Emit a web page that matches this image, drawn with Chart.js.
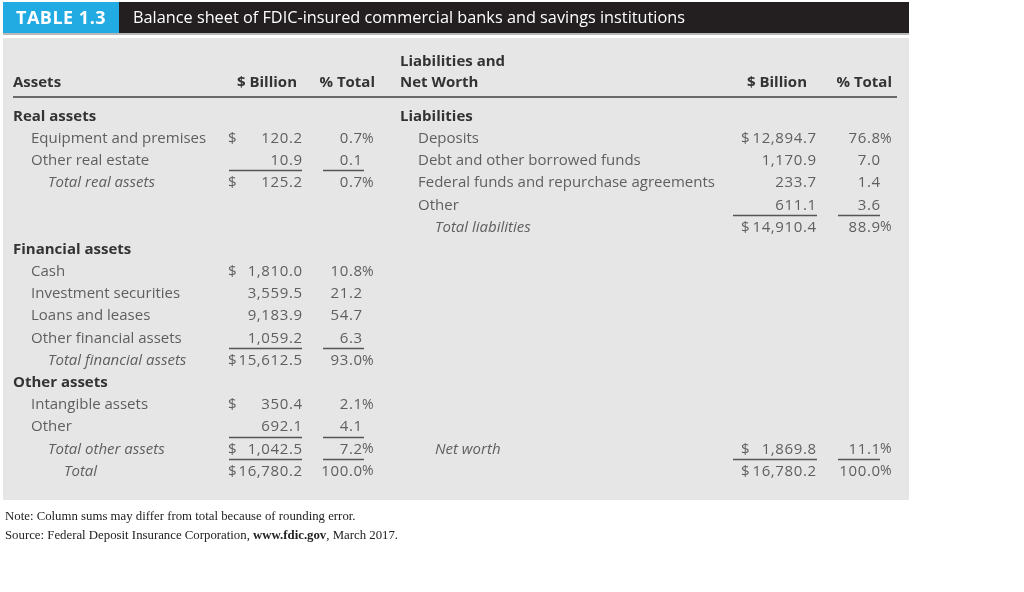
<!DOCTYPE html>
<html>
<head>
<meta charset="utf-8">
<script src="https://cdn.jsdelivr.net/npm/chart.js@4/dist/chart.umd.min.js"></script>
<style>
  html, body { margin: 0; background: #fff; }
  #wrap { width: 1024px; height: 592px; }
</style>
</head>
<body>
<div id="wrap"><canvas id="myChart"></canvas></div>
<script>
// TABLE TEXT
var tableNumber = 'TABLE 1.3';
var tableTitle = 'Balance sheet of FDIC-insured commercial banks and savings institutions';
var colHeads = ['$ Billion', '% Total'];
var leftHead = ['Assets'];
var rightHead = ['Liabilities and', 'Net Worth'];
var notes = ['Note: Column sums may differ from total because of rounding error.'];
var sourceParts = ['Source: Federal Deposit Insurance Corporation, ', 'www.fdic.gov', ', March 2017.'];

// ASSETS (left side)
var assetLabels = ['Real assets', 'Equipment and premises', 'Other real estate', 'Total real assets',
  'Financial assets', 'Cash', 'Investment securities', 'Loans and leases', 'Other financial assets', 'Total financial assets',
  'Other assets', 'Intangible assets', 'Other', 'Total other assets', 'Total'];
var assetRows = [0, 1, 2, 3, 6, 7, 8, 9, 10, 11, 12, 13, 14, 15, 16];
var assetKinds = ['group', 'item', 'item', 'total', 'group', 'item', 'item', 'item', 'item', 'total',
  'group', 'item', 'item', 'total', 'grand'];
var assetBillion = [null, 120.2, 10.9, 125.2, null, 1810.0, 3559.5, 9183.9, 1059.2, 15612.5, null, 350.4, 692.1, 1042.5, 16780.2];
var assetPercent = [null, 0.7, 0.1, 0.7, null, 10.8, 21.2, 54.7, 6.3, 93.0, null, 2.1, 4.1, 7.2, 100.0];
var assetMarked = [false, true, false, true, false, true, false, false, false, true, false, true, false, true, true];
var assetRuleBelow = [false, false, true, false, false, false, false, false, true, false, false, false, true, true, false];

// LIABILITIES AND NET WORTH (right side)
var liabLabels = ['Liabilities', 'Deposits', 'Debt and other borrowed funds', 'Federal funds and repurchase agreements',
  'Other', 'Total liabilities', 'Net worth', ''];
var liabRows = [0, 1, 2, 3, 4, 5, 15, 16];
var liabKinds = ['group', 'item', 'item', 'item', 'item', 'total', 'total', 'grand'];
var liabBillion = [null, 12894.7, 1170.9, 233.7, 611.1, 14910.4, 1869.8, 16780.2];
var liabPercent = [null, 76.8, 7.0, 1.4, 3.6, 88.9, 11.1, 100.0];
var liabMarked = [false, true, false, false, false, true, true, true];
var liabRuleBelow = [false, false, false, false, true, false, true, false];

// LAYOUT
var FONT = '"Open Sans", "Liberation Sans", sans-serif';
var ROW_PX = 22.1875;
var FIRST_ROW_PX = 115;
var TEXT_DY = 1.5;
var Y_MIN = -FIRST_ROW_PX / ROW_PX;
var Y_MAX = Y_MIN + 592 / ROW_PX;
var HEAD_ROWS = [-2.48, -1.53];
var HEAD_RULE_ROW = -0.82;
var sides = {
  left: { label: 13, indent: { group: 0, item: 18, total: 35, grand: 51 }, dollar: 228, billion: 302, pct: 362,
          ruleB: [229, 302], ruleP: [323, 364], headB: 297, headP: 375 },
  right: { label: 400, indent: { group: 0, item: 18, total: 35, grand: 35 }, dollar: 741, billion: 816, pct: 880,
           ruleB: [733, 817], ruleP: [838, 880], headB: 807, headP: 892 }
};

function fmt(n) {
  return n.toLocaleString('en-US', { minimumFractionDigits: 1, maximumFractionDigits: 1 });
}

function cellPoints(rows, values, marked, col, kind) {
  var pts = [];
  for (var i = 0; i < rows.length; i++) {
    if (values[i] === null) continue;
    pts.push({ x: col, y: rows[i], v: values[i], m: marked[i], k: kind });
  }
  return pts;
}

function fontFor(kind) {
  if (kind === 'group') return 'bold 15px ' + FONT;
  if (kind === 'total' || kind === 'grand') return 'italic 15px ' + FONT;
  return '15px ' + FONT;
}

var tablePlugin = {
  id: 'tablePlugin',
  beforeDraw: function (chart) {
    var ctx = chart.ctx;
    ctx.save();
    ctx.fillStyle = '#fff';
    ctx.fillRect(0, 0, chart.width, chart.height);
    // title bar
    ctx.fillStyle = '#231f20';
    ctx.fillRect(3, 2, 906, 31);
    ctx.fillStyle = '#22aae2';
    ctx.fillRect(3, 2, 116, 31);
    ctx.fillStyle = '#b9b9b9';
    ctx.fillRect(3, 33, 906, 2);
    // grey panel
    ctx.fillStyle = '#e6e6e6';
    ctx.fillRect(3, 38, 906, 462);
    ctx.fillStyle = '#fff';
    ctx.textBaseline = 'middle';
    ctx.font = 'bold 18px ' + FONT;
    ctx.letterSpacing = '0.5px';
    ctx.fillText(tableNumber, 16, 18.5);
    ctx.letterSpacing = '0px';
    ctx.font = '16.3px ' + FONT;
    ctx.fillText(tableTitle, 133, 18.5);
    ctx.restore();
  },
  afterDatasetsDraw: function (chart) {
    var ctx = chart.ctx;
    var y = chart.scales.y;
    function py(v) { return y.getPixelForValue(v) + TEXT_DY; }
    ctx.save();
    ctx.textBaseline = 'middle';

    // column heads
    ctx.fillStyle = '#333';
    ctx.font = 'bold 15px ' + FONT;
    ctx.textAlign = 'left';
    ctx.fillText(leftHead[0], sides.left.label, py(HEAD_ROWS[1]));
    ctx.fillText(rightHead[0], sides.right.label, py(HEAD_ROWS[0]));
    ctx.fillText(rightHead[1], sides.right.label, py(HEAD_ROWS[1]));
    ctx.textAlign = 'right';
    ['left', 'right'].forEach(function (s) {
      ctx.fillText(colHeads[0], sides[s].headB, py(HEAD_ROWS[1]));
      ctx.fillText(colHeads[1], sides[s].headP, py(HEAD_ROWS[1]));
    });
    ctx.strokeStyle = '#6a6a6a';
    ctx.lineWidth = 2;
    var hy = Math.round(y.getPixelForValue(HEAD_RULE_ROW));
    ctx.beginPath();
    ctx.moveTo(13, hy);
    ctx.lineTo(897, hy);
    ctx.stroke();

    // row labels
    function labels(side, list, rows, kinds) {
      ctx.textAlign = 'left';
      for (var i = 0; i < list.length; i++) {
        ctx.font = fontFor(kinds[i]);
        ctx.fillStyle = kinds[i] === 'group' ? '#333' : '#5f5f5f';
        ctx.fillText(list[i], side.label + side.indent[kinds[i]], py(rows[i]));
      }
    }
    labels(sides.left, assetLabels, assetRows, assetKinds);
    labels(sides.right, liabLabels, liabRows, liabKinds);

    // number cells, from the dataset elements
    chart.data.datasets.forEach(function (ds, di) {
      var meta = chart.getDatasetMeta(di);
      var side = sides[ds.side];
      meta.data.forEach(function (el, j) {
        var p = ds.data[j];
        var ty = el.y + TEXT_DY;
        ctx.font = '15px ' + FONT;
        ctx.fillStyle = '#5f5f5f';
        ctx.textAlign = 'right';
        ctx.letterSpacing = '0.6px';
        ctx.fillText(fmt(p.v), el.x + 0.6, ty);
        ctx.letterSpacing = '0px';
        if (p.m) {
          ctx.textAlign = 'left';
          if (p.k === 'billion') {
            ctx.fillText('$', side.dollar, ty);
          } else {
            ctx.font = '14px ' + FONT;
            ctx.fillText('%', el.x, ty);
          }
        }
      });
    });

    // sum rules
    function rules(side, rows, flags) {
      ctx.strokeStyle = '#555';
      ctx.lineWidth = 1.5;
      for (var i = 0; i < rows.length; i++) {
        if (!flags[i]) continue;
        var ry = Math.round(y.getPixelForValue(rows[i] + 0.5)) + 0.5;
        ctx.beginPath();
        ctx.moveTo(side.ruleB[0], ry);
        ctx.lineTo(side.ruleB[1], ry);
        ctx.moveTo(side.ruleP[0], ry);
        ctx.lineTo(side.ruleP[1], ry);
        ctx.stroke();
      }
    }
    rules(sides.left, assetRows, assetRuleBelow);
    rules(sides.right, liabRows, liabRuleBelow);

    // notes
    ctx.fillStyle = '#222';
    ctx.textAlign = 'left';
    ctx.font = '12.8px "Liberation Serif", serif';
    ctx.fillText(notes[0], 5, 517);
    var sx = 5;
    sourceParts.forEach(function (t, k) {
      ctx.font = (k === 1 ? 'bold ' : '') + '12.8px "Liberation Serif", serif';
      ctx.fillText(t, sx, 536);
      sx += ctx.measureText(t).width;
    });
    ctx.restore();
  }
};

var ctx = document.getElementById('myChart').getContext('2d');
var myChart = new Chart(ctx, {
  type: 'scatter',
  data: {
    datasets: [
      { side: 'left', data: cellPoints(assetRows, assetBillion, assetMarked, sides.left.billion, 'billion'), pointRadius: 0 },
      { side: 'left', data: cellPoints(assetRows, assetPercent, assetMarked, sides.left.pct, 'pct'), pointRadius: 0 },
      { side: 'right', data: cellPoints(liabRows, liabBillion, liabMarked, sides.right.billion, 'billion'), pointRadius: 0 },
      { side: 'right', data: cellPoints(liabRows, liabPercent, liabMarked, sides.right.pct, 'pct'), pointRadius: 0 }
    ]
  },
  options: {
    responsive: true,
    maintainAspectRatio: false,
    animation: false,
    events: [],
    layout: { padding: 0 },
    plugins: { legend: { display: false }, tooltip: { enabled: false } },
    scales: {
      x: { type: 'linear', min: 0, max: 1024, display: false },
      y: { type: 'linear', reverse: true, min: Y_MIN, max: Y_MAX, display: false }
    }
  },
  plugins: [tablePlugin]
});
</script>
</body>
</html>
